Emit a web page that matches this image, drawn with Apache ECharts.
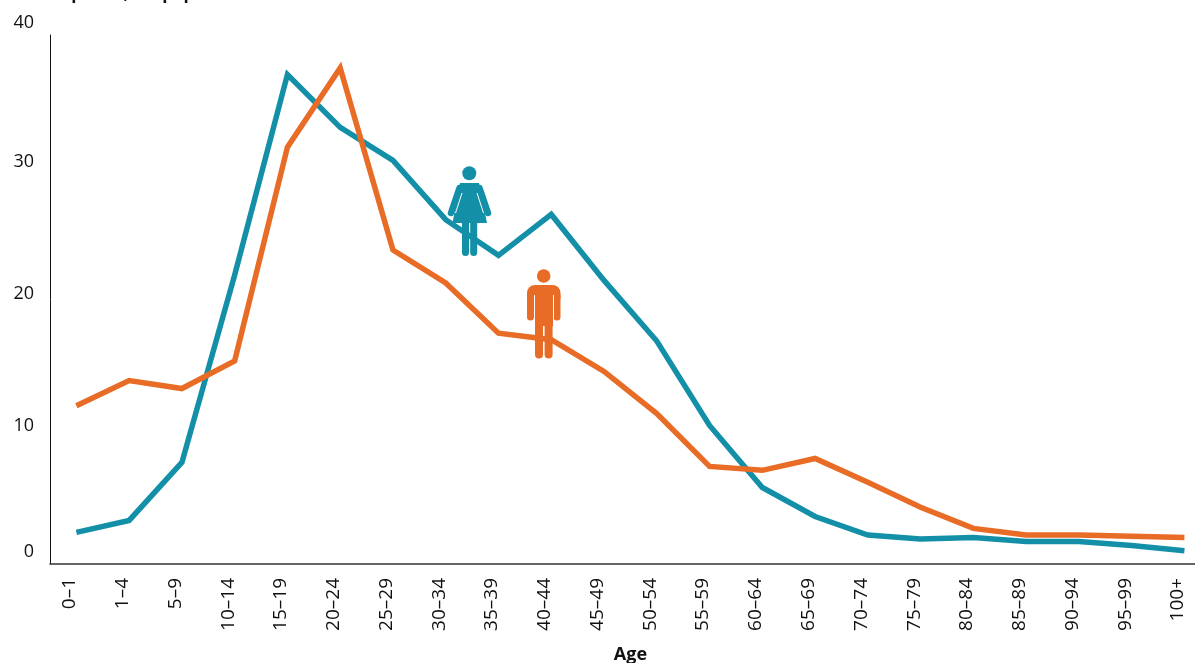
<!DOCTYPE html>
<html>
<head>
<meta charset="utf-8">
<style>html,body{margin:0;padding:0;background:#fff;overflow:hidden;width:1195px;height:663px}#c{width:1225px;height:663px}</style>
<script src="https://cdn.jsdelivr.net/npm/echarts@6/dist/echarts.min.js"></script>
</head>
<body>
<div id="c"></div>
<script>
const categories = ['0–1','1–4','5–9','10–14','15–19','20–24','25–29','30–34','35–39','40–44','45–49','50–54','55–59','60–64','65–69','70–74','75–79','80–84','85–89','90–94','95–99','100+'];
const women = [1.9,2.8,7.2,21.4,36.6,32.6,30.1,25.6,22.9,26.0,21.0,16.4,10.0,5.3,3.1,1.7,1.4,1.5,1.2,1.2,0.9,0.5];
const men = [11.5,13.4,12.8,14.9,31.1,37.1,23.3,20.8,17.0,16.5,14.1,10.9,6.9,6.6,7.5,5.7,3.8,2.2,1.7,1.7,1.6,1.5];
const yMin = -0.5, yMax = 39.6;
const yTicks = [0,10,20,30,40];
const TEAL = '#1390A8', ORANGE = '#E86C25';
const FONT = '"Open Sans", "Noto Sans", sans-serif';

const stroke = (pts, color, w, cap) => ({type:'polyline', shape:{points:pts}, style:{stroke:color, lineWidth:w, lineCap:cap||'round', fill:null}});
const woman = {type:'group', z:100, children:[
  {type:'circle', shape:{cx:469.3,cy:173.3,r:7}, style:{fill:TEAL}},
  stroke([[459.5,188],[451,213]],TEAL,6.5),
  stroke([[479.5,188],[488,213]],TEAL,6.5),
  {type:'polygon', shape:{points:[[460,183],[479,183],[487,223],[452.5,223]]}, style:{fill:TEAL}},
  {type:'rect', shape:{x:458,y:183,width:23,height:8,r:[6,6,0,0]}, style:{fill:TEAL}},
  stroke([[462,193],[455.5,213]],'#fff',1,'butt'),
  stroke([[477,193],[483.5,213]],'#fff',1,'butt'),
  stroke([[465.5,222],[465.5,252.5]],TEAL,7),
  stroke([[473.7,222],[473.7,252.5]],TEAL,7)
]};
const man = {type:'group', z:100, children:[
  {type:'circle', shape:{cx:543.7,cy:276,r:6.8}, style:{fill:ORANGE}},
  {type:'rect', shape:{x:527,y:285,width:33.5,height:14,r:[8,8,0,0]}, style:{fill:ORANGE}},
  stroke([[530.5,296],[530.5,317]],ORANGE,7),
  stroke([[557,296],[557,317]],ORANGE,7),
  {type:'rect', shape:{x:535,y:290,width:18,height:36}, style:{fill:ORANGE}},
  stroke([[534.5,295],[534.5,322]],'#fff',1,'butt'),
  stroke([[553.5,295],[553.5,322]],'#fff',1,'butt'),
  stroke([[539,322],[539,354.5]],ORANGE,8),
  stroke([[548.6,322],[548.6,354.5]],ORANGE,8)
]};

const chart = echarts.init(document.getElementById('c'), null, {renderer:'canvas'});
chart.setOption({
  animation:false,
  backgroundColor:'#fff',
  title:{text:'Rate per 10,000 population', left:28, top:-16, padding:0,
    textStyle:{fontFamily:FONT, fontSize:17, fontWeight:'bold', color:'#111', lineHeight:20}},
  grid:{left:50, top:35, width:1160.8, height:529, outerBoundsMode:'none'},
  xAxis:{type:'category', data:categories, boundaryGap:true,
    name:'Age', nameLocation:'middle', nameGap:82,
    nameTextStyle:{fontFamily:FONT, fontSize:18, fontWeight:'bold', color:'#111'},
    axisLine:{show:true, onZero:false, lineStyle:{color:'#333', width:1.5}},
    axisTick:{show:false},
    axisLabel:{rotate:90, interval:0, margin:14,
      formatter:v=>'{c|'+v+'}',
      rich:{c:{fontFamily:FONT, fontSize:19, color:'#111', padding:[0,0,13,0]}}}},
  yAxis:{type:'value', min:yMin, max:yMax,
    axisLine:{show:true, lineStyle:{color:'#111', width:1}},
    axisTick:{show:false}, splitLine:{show:false},
    axisLabel:{margin:16, customValues:yTicks.map(v=>Math.min(v,yMax)), showMinLabel:true, showMaxLabel:true,
      formatter:v=>{const t=Math.round(v/10)*10; return t===40?'{top|40}':t===0?'{low|0}':'{mid|'+t+'}';},
      rich:{
        top:{fontFamily:FONT,fontSize:18,color:'#111',padding:[0,0,24,0]},
        low:{fontFamily:FONT,fontSize:18,color:'#111',padding:[0,0,11,0]},
        mid:{fontFamily:FONT,fontSize:18,color:'#111'}
      }}},
  series:[
    {name:'Women', type:'line', data:women, symbol:'none', lineStyle:{color:TEAL,width:5.5,join:'miter'}, itemStyle:{color:TEAL}},
    {name:'Men', type:'line', data:men, symbol:'none', lineStyle:{color:ORANGE,width:5.5,join:'miter'}, itemStyle:{color:ORANGE}}
  ],
  graphic:[woman, man]
});
</script>
</body>
</html>
